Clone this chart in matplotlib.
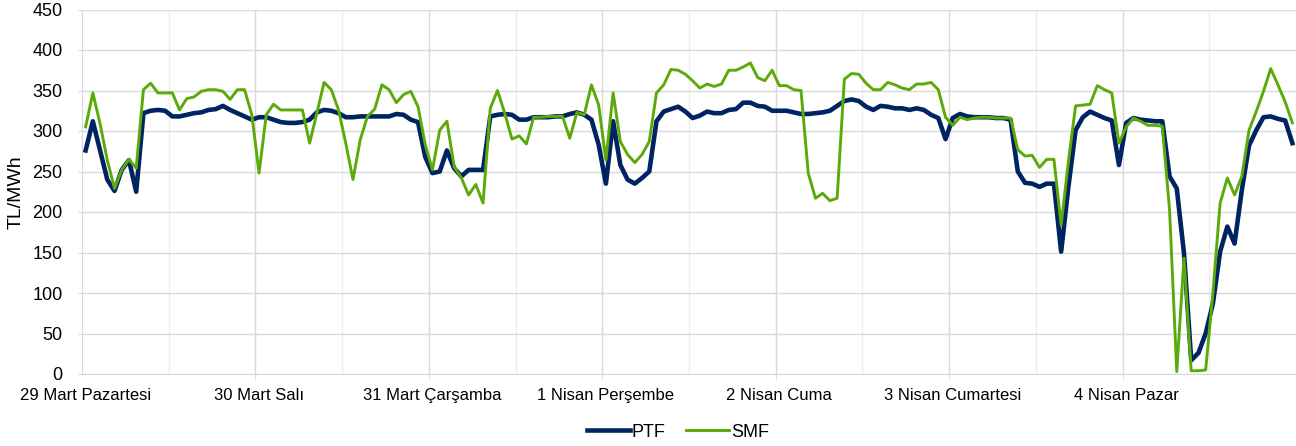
import numpy as np
import matplotlib.pyplot as plt

plt.rcParams['font.family'] = ['Liberation Sans', 'DejaVu Sans']

# ---------- data (hourly, 7 days) ----------
days = ["29 Mart Pazartesi", "30 Mart Salı", "31 Mart Çarşamba", "1 Nisan Perşembe",
        "2 Nisan Cuma", "3 Nisan Cumartesi", "4 Nisan Pazar"]

ptf = [
    276, 312, 276, 240, 226, 252, 264, 225, 322, 325, 326, 325, 318, 318, 320, 322, 323, 326, 327, 331, 326, 322, 318, 314,
    317, 317, 314, 311, 310, 310, 311, 314, 323, 326, 325, 322, 317, 317, 318, 318, 318, 318, 318, 321, 320, 314, 311, 268,
    248, 250, 276, 254, 244, 252, 252, 252, 318, 320, 321, 320, 314, 314, 317, 317, 317, 318, 318, 321, 323, 320, 314, 283,
    235, 312, 258, 240, 235, 242, 250, 312, 324, 327, 330, 324, 316, 319, 324, 322, 322, 326, 327, 335, 335, 331, 330, 325,
    325, 325, 323, 321, 321, 322, 323, 325, 331, 337, 339, 337, 330, 326, 331, 330, 328, 328, 326, 328, 326, 320, 316, 290,
    316, 321, 318, 317, 317, 317, 316, 316, 314, 250, 236, 235, 231, 235, 235, 151, 231, 301, 317, 324, 320, 316, 313, 258,
    310, 316, 314, 313, 312, 312, 244, 229, 149, 17, 26, 50, 87, 151, 182, 161, 227, 282, 301, 317, 318, 315, 313, 285,
]

smf = [
    305, 347, 309, 264, 229, 252, 265, 254, 351, 359, 347, 347, 347, 326, 340, 342, 349, 351, 351, 349, 339, 351, 351, 320,
    248, 320, 333, 326, 326, 326, 326, 285, 322, 360, 351, 326, 285, 240, 289, 318, 327, 357, 351, 335, 345, 349, 330, 283,
    252, 301, 312, 256, 242, 221, 234, 211, 328, 350, 322, 290, 294, 284, 317, 317, 318, 318, 318, 291, 323, 320, 357, 332,
    264, 347, 287, 271, 261, 271, 287, 347, 357, 376, 375, 370, 362, 353, 358, 355, 358, 375, 375, 379, 384, 366, 362, 375,
    356, 356, 351, 350, 248, 217, 223, 214, 217, 364, 371, 370, 359, 351, 351, 360, 357, 353, 351, 358, 358, 360, 351, 317,
    307, 317, 314, 316, 317, 317, 316, 316, 316, 277, 269, 270, 255, 265, 265, 184, 262, 331, 332, 333, 356, 351, 347, 285,
    305, 316, 312, 307, 307, 306, 203, 3, 143, 4, 4, 5, 100, 211, 242, 221, 244, 301, 324, 349, 377, 357, 336, 310,
]

hours = np.arange(len(ptf))

# ---------- figure ----------
fig = plt.figure(figsize=(12.96, 4.46), dpi=100)
ax = fig.add_axes([82 / 1296, 1 - 374 / 446, 1 - 82 / 1296, (374 - 9.5) / 446])

# grid: day boundaries a bit darker, noon lines lighter
for k in range(len(days)):
    ax.axvline(11.5 + 24 * k, color="#ececec", lw=1, zorder=0)
    if k < len(days) - 1:
        ax.axvline(23.5 + 24 * k, color="#d9d9d9", lw=1, zorder=0)
ax.set_yticks(np.arange(0, 451, 50))
ax.yaxis.grid(True, color="#d9d9d9", lw=1)
ax.set_axisbelow(True)

ax.plot(hours, ptf, color="#002462", lw=3.3, label="PTF", solid_joinstyle="round", zorder=3)
ax.plot(hours, smf, color="#5BAA0A", lw=2.1, label="SMF", solid_joinstyle="round", zorder=4)

ax.set_xlim(-0.5, 167.5)
ax.set_ylim(0, 450)
ax.set_xticks(np.arange(0, 168, 24))
ax.set_xticklabels(days)
ax.set_xticks(np.arange(23.5, 167, 24), minor=True)

for s in ["top", "right"]:
    ax.spines[s].set_visible(False)
for s in ["left", "bottom"]:
    ax.spines[s].set_color("#d9d9d9")
ax.tick_params(axis="x", which="major", length=0, pad=10, labelsize=12, colors="#000000")
ax.tick_params(axis="x", which="minor", length=4, color="#d9d9d9")
ax.tick_params(axis="y", length=3, color="#d9d9d9", pad=11, labelsize=13)

ax.set_ylabel("TL/MWh", fontsize=14)
ax.yaxis.set_label_coords(-0.047, 0.5)

fig.legend(loc="center", bbox_to_anchor=(0.523, 0.031), ncol=2, frameon=False,
           fontsize=13, handlelength=2.4, handletextpad=0.1, columnspacing=1.1)

fig.savefig("out.png", dpi=100)
